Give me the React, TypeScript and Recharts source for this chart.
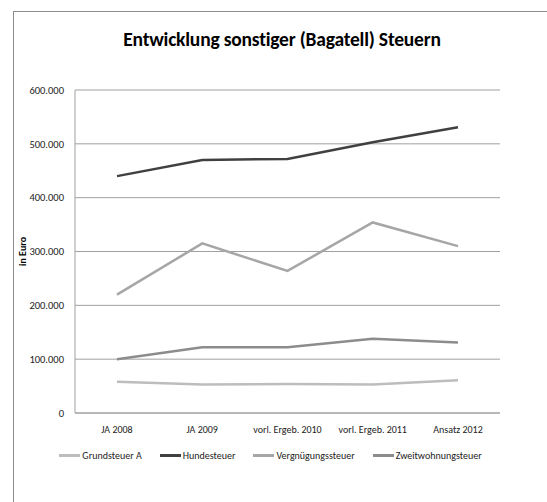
import React from "react";
import { LineChart, Line, XAxis, YAxis, CartesianGrid, Legend } from "recharts";

const categories = ["JA 2008", "JA 2009", "vorl. Ergeb. 2010", "vorl. Ergeb. 2011", "Ansatz 2012"];
const grundsteuerA = [58000, 53000, 54000, 53000, 61000];
const hundesteuer = [440000, 470000, 472000, 503000, 531000];
const vergnuegungssteuer = [220000, 315000, 264000, 354000, 310000];
const zweitwohnungsteuer = [100000, 122000, 122000, 138000, 131000];
const yTicks = [0, 100000, 200000, 300000, 400000, 500000, 600000];

const seriesNames = ["Grundsteuer A", "Hundesteuer", "Vergnügungssteuer", "Zweitwohnungsteuer"];
const seriesColors = ["#bdbdbd", "#404040", "#a6a6a6", "#8c8c8c"];
const seriesValues = [grundsteuerA, hundesteuer, vergnuegungssteuer, zweitwohnungsteuer];

const data = categories.map((c, i) => {
  const row: Record<string, string | number> = { name: c };
  seriesNames.forEach((s, k) => {
    row[s] = seriesValues[k][i];
  });
  return row;
});

const font = "Calibri, Carlito, 'Open Sans', 'Noto Sans', sans-serif";

const fmt = (v: number) => (v === 0 ? "0" : v.toLocaleString("de-DE", { minimumFractionDigits: 0 }).replace(/,/g, "."));

const LegendContent = (props: any) => {
  const payload = props.payload || [];
  const items = seriesNames.map((n) => payload.find((p: any) => p.value === n)).filter(Boolean);
  return (
    <div style={{ display: "flex", justifyContent: "center", fontFamily: font, fontSize: 10, color: "#222", whiteSpace: "nowrap" }}>
      {items.map((p: any, i: number) => (
        <div key={p.value} style={{ display: "flex", alignItems: "center", marginLeft: i === 0 ? 0 : 18 }}>
          <span style={{ display: "inline-block", width: 21, height: 3, background: p.color, marginRight: 2 }} />
          <span>{p.value}</span>
        </div>
      ))}
    </div>
  );
};

export default function App() {
  return (
    <div style={{ position: "absolute", left: 13, top: 11, width: 534, height: 491, borderTop: "1px solid #8c8c8c", borderLeft: "1px solid #8c8c8c", background: "#fff", boxSizing: "border-box" }}>
      <div style={{ position: "absolute", left: 0, top: 15, width: 536, textAlign: "center", fontFamily: font, fontWeight: "bold", fontSize: 19.5, color: "#000", letterSpacing: -0.2 }}>
        Entwicklung sonstiger (Bagatell) Steuern
      </div>
      <div style={{ position: "absolute", left: -22, top: 233, width: 60, textAlign: "center", fontFamily: font, fontWeight: "bold", fontSize: 10, color: "#000", transform: "rotate(-90deg)" }}>
        in Euro
      </div>
      <div style={{ position: "absolute", left: 0, top: 0 }}>
        <LineChart width={533} height={490} data={data} margin={{ top: 78, right: 47, bottom: 0, left: 0 }}>
          <CartesianGrid vertical={false} stroke="#a0a0a0" strokeWidth={1} />
          <XAxis
            dataKey="name"
            height={89}
            tickLine={false}
            tickMargin={7}
            padding={{ left: 42, right: 42 }}
            axisLine={{ stroke: "#a0a0a0" }}
            tick={{ fontFamily: font, fontSize: 10, fill: "#222" }}
            interval={0}
          />
          <YAxis
            width={61}
            domain={[0, 600000]}
            ticks={yTicks}
            tickFormatter={fmt}
            tickLine={false}
            tickMargin={5}
            axisLine={{ stroke: "#a0a0a0" }}
            tick={{ fontFamily: font, fontSize: 10.5, fill: "#222" }}
          />
          {seriesNames.map((s, k) => (
            <Line
              key={s}
              type="linear"
              dataKey={s}
              stroke={seriesColors[k]}
              strokeWidth={2.5}
              dot={false}
              activeDot={false}
              isAnimationActive={false}
            />
          ))}
          <Legend layout="horizontal" verticalAlign="middle" align="center" wrapperStyle={{ top: 437, left: -10, width: 533 }} content={LegendContent} />
        </LineChart>
      </div>
    </div>
  );
}
